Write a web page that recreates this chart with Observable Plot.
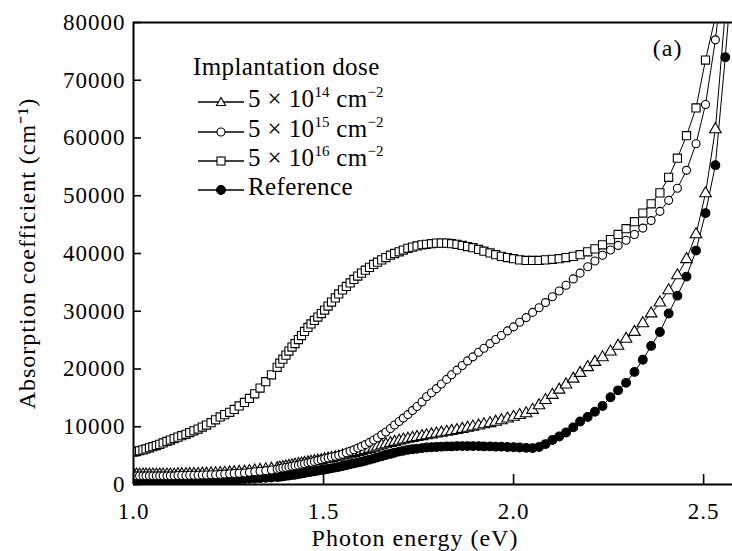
<!DOCTYPE html>
<html><head><meta charset="utf-8">
<script src="https://cdn.jsdelivr.net/npm/d3@7"></script>
<script src="https://cdn.jsdelivr.net/npm/@observablehq/plot@0.6"></script>
<style>
body{margin:0;background:#fff;}
#wrap{position:relative;width:732px;height:551px;overflow:hidden;font-family:'Liberation Serif','Times New Roman',serif;color:#000;}
.ltxt{position:absolute;font-size:25px;line-height:30px;white-space:nowrap;letter-spacing:0.4px;}
.sup{font-size:15px;position:relative;top:-10px;letter-spacing:0;}
.lsym{position:absolute;}
</style></head>
<body><div id="wrap"></div>
<script>
// Photon energy grid (eV) of the measured points
const energyEV = [
 1.000,1.008,1.016,1.025,1.033,1.042,1.051,1.060,1.069,1.078,1.088,1.097,1.107,1.117,1.127,1.138,1.148,1.159,1.170,1.181,1.192,1.204,1.216,1.228,1.240,1.253,1.265,1.278,1.292,1.305,1.319,1.333,1.348,1.363,
 1.378,1.385,1.393,1.401,1.409,1.417,1.425,1.434,1.442,1.450,1.459,1.467,1.476,1.485,1.494,1.503,1.512,1.521,1.531,1.540,
 1.550,1.560,1.570,1.580,1.590,1.600,1.610,1.621,1.632,1.642,1.653,1.664,1.676,1.687,1.699,1.710,1.722,1.734,1.746,1.759,
 1.771,1.784,1.797,1.810,1.824,1.837,1.851,1.865,1.879,1.893,1.908,1.922,1.938,1.953,1.968,1.984,2.000,2.016,2.033,2.050,
 2.067,2.084,2.102,2.120,2.138,2.157,2.175,2.195,2.214,2.234,2.255,2.275,2.296,2.318,2.340,2.362,2.385,2.408,2.431,2.455,
 2.480,2.505,2.531,2.557,2.583
];
// Absorption coefficient (cm^-1), dose 5e14
const dose14 = [
 1700,1700,1700,1700,1700,1700,1700,1700,1700,1700,1700,1700,1700,1750,1750,1750,1800,1800,1800,1850,1850,1900,1900,1950,2000,2050,2100,2150,2200,2300,2400,2500,2600,2700,
 2800,2900,3000,3100,3200,3300,3400,3500,3600,3700,3800,3900,4000,4100,4200,4350,4450,4550,4700,4800,
 5000,5150,5300,5450,5600,5750,5950,6150,6350,6550,6750,6950,7150,7350,7550,7750,7900,8050,8200,8350,
 8500,8650,8800,8950,9100,9250,9400,9600,9800,10000,10200,10400,10600,10850,11100,11400,11700,12000,12300,12900,
 13700,14600,15500,16400,17300,18300,19300,20300,21200,22000,23000,24000,25200,26400,27900,29600,31500,33600,36200,39000,
 43300,50400,61500,82000,null
];
// dose 5e15
const dose15 = [
 1500,1500,1500,1500,1500,1500,1500,1500,1500,1500,1500,1500,1500,1550,1550,1550,1600,1600,1600,1650,1650,1700,1700,1750,1800,1850,1900,1950,2000,2100,2200,2300,2400,2500,
 2650,2750,2850,2950,3050,3150,3250,3350,3500,3600,3750,3850,4000,4150,4300,4450,4600,4750,4900,5050,
 5250,5500,5750,6000,6300,6600,6900,7300,7700,8100,8600,9100,9700,10300,10900,11500,12100,12800,13500,14300,
 15200,15900,16600,17400,18200,19000,19800,20600,21400,22100,22900,23600,24400,25100,25800,26600,27300,28100,28900,29800,
 30600,31500,32500,33500,34500,35600,36600,37700,38700,39700,40600,41400,42300,43300,44400,45700,47300,49200,51300,54400,
 59000,65800,77000,92000,null
];
// dose 5e16
const dose16 = [
 5600,5700,5850,6000,6150,6350,6550,6750,6950,7200,7450,7700,7950,8200,8450,8700,9000,9300,9600,9950,10300,10700,11200,11700,12100,12500,13000,13600,14200,14900,15700,16700,17800,19000,
 20300,21000,21700,22400,23100,23800,24400,25100,25800,26500,27200,27800,28400,29000,29600,30200,30900,31600,32300,33000,
 33700,34300,34900,35500,36100,36600,37100,37600,38100,38500,38900,39300,39700,40000,40300,40600,40900,41100,41300,41500,
 41600,41700,41800,41800,41800,41700,41600,41400,41200,41000,40700,40400,40100,39800,39500,39300,39100,38900,38800,38800,
 38800,38900,39000,39100,39300,39500,39800,40300,40800,41500,42400,43300,44300,45500,47000,48600,50500,53200,56500,60400,
 65200,73500,81000,null,null
];
// un-implanted reference
const reference = [
 900,900,900,900,900,900,900,900,900,900,900,900,900,900,900,900,900,900,900,900,900,900,900,900,900,900,900,900,950,1000,1050,1100,1150,1200,
 1300,1350,1400,1500,1550,1650,1700,1800,1900,2000,2100,2200,2300,2400,2500,2600,2700,2800,2950,3050,
 3200,3350,3500,3650,3800,3950,4100,4300,4500,4700,4900,5100,5300,5500,5700,5850,6000,6100,6200,6300,
 6400,6450,6500,6550,6600,6600,6650,6650,6650,6650,6650,6600,6600,6550,6550,6500,6450,6400,6350,6300,
 6500,7000,7700,8300,9000,9900,10900,11700,12600,13600,15100,16300,17600,19500,21600,24000,26400,29600,32700,36000,
 40500,47000,55300,74000,95000
];
const seriesLabels = ["5 × 10^14 cm^−2", "5 × 10^15 cm^−2", "5 × 10^16 cm^−2", "Reference"];
const legendTitle = "Implantation dose";
const panelLabel = "(a)";
const xTicks = [1.0, 1.5, 2.0, 2.5];
const yTicks = [0, 10000, 20000, 30000, 40000, 50000, 60000, 70000, 80000];
const xDomain = [1.0, 2.576];
const yDomain = [0, 80000];
const xTitle = "Photon energy (eV)";
const yTitle = "Absorption coefficient (cm⁻¹)";

const W = 732, H = 551, mL = 133, mR = 0, mT = 22, mB = 67;
const plotW = W - mL - mR, plotH = H - mT - mB;

const series = [
  {key: seriesLabels[0], values: dose14, symbol: "triangle", fill: "white", r: 4.3},
  {key: seriesLabels[1], values: dose15, symbol: "circle", fill: "white", r: 4},
  {key: seriesLabels[2], values: dose16, symbol: "square", fill: "white", r: 4.6},
  {key: seriesLabels[3], values: reference, symbol: "circle", fill: "black", r: 4.4}
];
const rows = series.flatMap(s => energyEV.map((e, i) => ({series: s.key, energy: e, value: s.values[i]})));

const dotOrder = [3, 0, 1, 2];
const chart = Plot.plot({
  width: W, height: H,
  marginLeft: mL, marginRight: mR, marginTop: mT, marginBottom: mB,
  x: {domain: xDomain},
  y: {domain: yDomain},
  style: {fontFamily: "'Liberation Serif','Times New Roman',serif", fontSize: "23px", letterSpacing: "1px", color: "black", background: "white", overflow: "visible"},
  marks: [
    Plot.line(rows, {x: "energy", y: "value", z: "series", stroke: "black", strokeWidth: 1, clip: true}),
    ...dotOrder.map(k => Plot.dot(rows.filter(d => d.series === series[k].key), {
      x: "energy", y: "value", symbol: () => series[k].symbol, r: series[k].r,
      fill: series[k].fill, stroke: "black", strokeWidth: 1.1, clip: true
    })),
    Plot.ruleY(yDomain, {stroke: "black", strokeWidth: 2}),
    Plot.ruleX([xDomain[0]], {stroke: "black", strokeWidth: 2}),
    Plot.tickX(xTicks, {x: d => d, insetTop: plotH - 10, stroke: "black", strokeWidth: 1.6}),
    Plot.tickY(yTicks, {y: d => d, insetRight: plotW - 8, stroke: "black", strokeWidth: 1.6}),
    Plot.axisX(xTicks, {tickSize: 0, tickPadding: 18, tickFormat: d3.format(".1f"), label: null}),
    Plot.axisY(yTicks, {tickSize: 0, tickPadding: 8, tickFormat: d3.format("d"), label: null}),
    Plot.text([xTitle], {frameAnchor: "bottom", dx: -18, dy: 54, fontSize: 24, letterSpacing: "0.5px", textAnchor: "middle", lineAnchor: "middle", text: d => d}),
    Plot.text([yTitle], {frameAnchor: "left", dx: -106, rotate: -90, fontSize: 24, textAnchor: "middle", lineAnchor: "middle", text: d => d}),
    Plot.text([panelLabel], {frameAnchor: "top-right", dx: -50, dy: 26, fontSize: 24, textAnchor: "end", lineAnchor: "middle", text: d => d})
  ]
});
const wrap = document.getElementById("wrap");
wrap.appendChild(chart);

// legend
function symSvg(s) {
  let m = "";
  if (s.symbol === "triangle") m = '<path d="M23,10.5 L27.5,18.5 L18.5,18.5 Z" fill="white" stroke="black" stroke-width="1.1"/>';
  else if (s.symbol === "square") m = '<rect x="19" y="11" width="8" height="8" fill="white" stroke="black" stroke-width="1.1"/>';
  else m = `<circle cx="23" cy="15" r="${s.fill === "black" ? 4.4 : 4}" fill="${s.fill}" stroke="black" stroke-width="1.1"/>`;
  return `<svg width="46" height="30"><line x1="0" x2="46" y1="15" y2="15" stroke="black" stroke-width="1.3"/>${m}</svg>`;
}
function fmt(label) {
  return label.replace(/\^([^ ]+)/g, '<span class="sup">$1</span>');
}
const title = document.createElement("div");
title.className = "ltxt"; title.style.left = "193px"; title.style.top = "52px";
title.textContent = legendTitle;
wrap.appendChild(title);
const centers = [102, 131.5, 161, 190];
series.forEach((s, i) => {
  const sym = document.createElement("div");
  sym.className = "lsym"; sym.style.left = "198px"; sym.style.top = (centers[i] - 15) + "px";
  sym.innerHTML = symSvg(s);
  wrap.appendChild(sym);
  const t = document.createElement("div");
  t.className = "ltxt"; t.style.left = "248px"; t.style.top = (centers[i] + 6 - 24) + "px";
  t.innerHTML = fmt(s.key);
  wrap.appendChild(t);
});
</script>
</body></html>
